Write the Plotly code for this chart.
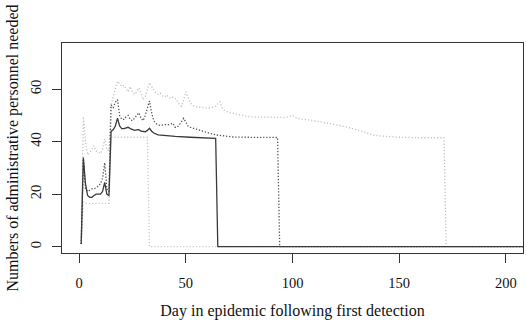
import plotly.graph_objects as go

# Scenario A (solid, dark)
days_a = [1, 2, 3, 4, 5, 6, 7, 8, 9, 10, 11, 12, 13, 14, 15, 16, 17, 18, 19, 20, 21, 22, 23, 24, 25, 26, 27,
          28, 29, 30, 31, 32, 33, 34, 35, 37, 40, 45, 52, 58, 64, 65, 215]
vals_a = [1, 34, 24, 19.5, 18.8, 18.8, 19.5, 20, 20, 20, 21, 24.5, 20, 19.5, 44, 44.5, 46, 49, 46, 45, 45, 45.3,
          45.5, 45, 44.5, 44.3, 44.5, 44.6, 44, 43.8, 43.8, 44.3, 45.1, 44, 43.3, 42.6, 42.3, 42, 41.7, 41.5, 41.3, 0, 0]

# Scenario B (dark dotted)
days_b = [1, 2, 3, 4, 5, 6, 7, 8, 9, 10, 11, 12, 13, 14, 15, 16, 17, 18, 19, 20, 21, 22, 23, 24, 25, 26, 27,
          28, 29, 30, 31, 32, 33, 34, 35, 36, 37, 38, 40, 42, 43, 44, 45, 46, 47, 48, 49, 50, 51, 52, 54, 56,
          58, 60, 64, 68, 72, 78, 85, 93, 94, 215]
vals_b = [1, 33, 22, 21, 21.5, 22, 22, 22.5, 23, 24, 26, 32, 22, 21, 54, 53, 55, 56, 50, 48.5, 48.5, 49.5, 50,
          48.5, 48, 49, 50, 51, 49, 48, 50, 53, 55.5, 51, 48, 47, 46.4, 46.2, 46.5, 46.5, 46.8, 47, 45.5, 45.5,
          46.5, 47.5, 48.9, 47.5, 46, 45.5, 45, 44.3, 43.8, 43.5, 42.6, 42.2, 41.8, 41.7, 41.6, 41.6, 0, 0]

# Scenario C (light dotted, long)
days_c = [1, 2, 3, 4, 5, 6, 7, 8, 9, 10, 11, 12, 13, 14, 15, 16, 17, 18, 19, 20, 21, 22, 23, 24, 25, 26, 27,
          28, 29, 30, 31, 32, 33, 34, 35, 36, 37, 38, 39, 40, 41, 42, 43, 44, 45, 46, 47, 48, 49, 50, 51, 52,
          53, 54, 56, 58, 60, 62, 64, 65, 66, 67, 68, 70, 72, 75, 78, 80, 84, 88, 92, 96, 98, 100, 102, 105,
          108, 111, 114, 117, 120, 123, 126, 129, 132, 135, 138, 141, 145, 150, 160, 171, 172, 215]
vals_c = [1, 49.5, 40, 35, 36, 37, 38.5, 36.5, 36, 35.5, 37, 41, 37, 36.5, 54, 57, 60, 63, 62, 61, 61.5, 60, 59,
          61, 59, 58, 59, 60.5, 58, 56, 57, 60, 62.5, 61, 59.5, 58.5, 58, 58.5, 57.5, 57, 57.8, 56.8, 56.5, 57,
          56.5, 55.5, 54, 53.5, 56, 59, 57, 55, 54, 53.5, 53.2, 53, 52.8, 53, 53.5, 54.5, 55.2, 53, 52, 51.2,
          50.8, 50.2, 49.8, 49.5, 49.3, 49.4, 49.2, 49.2, 49.5, 50, 49, 48.5, 48.3, 47.9, 47.4, 47, 46.5, 46,
          45.5, 44.8, 44, 43.2, 42.5, 42.2, 41.9, 41.7, 41.5, 41.5, 0, 0]

# Scenario D (light dotted, short)
days_d = [1, 2, 3, 14, 15, 32, 33, 215]
vals_d = [1, 17, 16.5, 16.5, 41.7, 41.7, 0, 0]

x_ticks = [0, 50, 100, 150, 200]
y_ticks = [0, 20, 40, 60]

fig = go.Figure()
series = [
    (days_d, vals_d, "#c8c8c8", "1.2px,2px"),
    (days_c, vals_c, "#c0c0c0", "1.2px,2px"),
    (days_b, vals_b, "#555555", "1.3px,1.8px"),
    (days_a, vals_a, "#3a3a3a", "solid"),
]
for d, v, c, dash in series:
    fig.add_trace(go.Scatter(x=d, y=v, mode="lines",
                             line=dict(color=c, width=1.3, dash=dash), hoverinfo="skip"))

axis_common = dict(showgrid=False, zeroline=False, showline=True, mirror=True, automargin=False,
                   linecolor="#333333", linewidth=1, ticks="outside", ticklen=9,
                   tickcolor="#333333", tickfont=dict(family="Liberation Serif", size=14.5, color="#111"))

fig.update_layout(
    width=526, height=321,
    margin=dict(l=62, r=3, t=43, b=68),
    paper_bgcolor="white", plot_bgcolor="white",
    showlegend=False,
    font=dict(family="Liberation Serif", color="#111"),
    xaxis=dict(range=[-8, 208], tickvals=x_ticks, ticktext=[str(t) for t in x_ticks],
               ticklabelstandoff=8,
               title=dict(text="Day in epidemic following first detection",
                          font=dict(family="Liberation Serif", size=16), standoff=14),
               **axis_common),
    yaxis=dict(range=[-2.4, 77.6], tickvals=y_ticks, ticktext=[str(t) for t in y_ticks],
               tickangle=-90, ticklabelstandoff=5,
               title=dict(text="Numbers of administrative personnel needed",
                          font=dict(family="Liberation Serif", size=16), standoff=5),
               **axis_common),
)

fig.write_html("out.html", config={"displayModeBar": False},
               post_script="document.body.style.margin='0';document.body.style.padding='0';")
